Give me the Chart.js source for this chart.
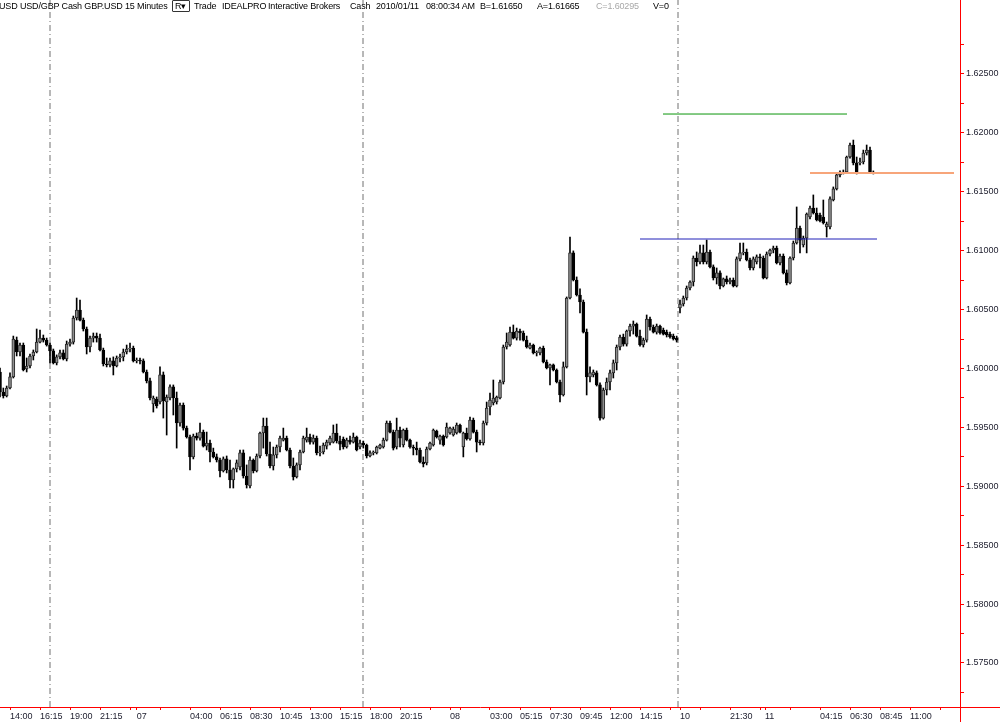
<!DOCTYPE html>
<html>
<head>
<meta charset="utf-8">
<script src="https://cdn.jsdelivr.net/npm/chart.js@4.4.1/dist/chart.umd.min.js"></script>
<style>
  html, body { margin: 0; padding: 0; background: #fff; }
  #wrap { position: relative; width: 1000px; height: 722px; overflow: hidden; }
  #chart { display: block; }
  #hdr { position: absolute; top: 1px; left: 0; width: 1000px; height: 12px;
         font: 9px 'Liberation Sans', Arial, sans-serif; letter-spacing: -0.15px; color: #000; white-space: nowrap; }
  #hdr span { position: absolute; top: 0; line-height: 11px; }
  #hdr .box { top: -1px; border: 1px solid #333; padding: 0 2px; line-height: 10px; border-radius: 1px; letter-spacing: 0; }
  #hdr .dim { color: #a8a8a8; }
</style>
</head>
<body>
<div id="wrap">
  <canvas id="chart" width="1000" height="722"></canvas>
  <div id="hdr">
    <span style="left:-1px">USD USD/GBP Cash GBP.USD</span>
    <span style="left:125px">15 Minutes</span>
    <span class="box" style="left:172px">R&#9662;</span>
    <span style="left:194px">Trade</span>
    <span style="left:222px">IDEALPRO</span>
    <span style="left:268px">Interactive Brokers</span>
    <span style="left:350px">Cash</span>
    <span style="left:376px">2010/01/11</span>
    <span style="left:426px">08:00:34 AM</span>
    <span style="left:480px">B=1.61650</span>
    <span style="left:537px">A=1.61665</span>
    <span class="dim" style="left:596px">C=1.60295</span>
    <span style="left:653px">V=0</span>
  </div>
</div>
<script>
// 15 minute bars, bar index 0 = 13:15 on the 6th
const open = [1.59970,1.59800,1.59766,1.59834,1.59928,1.60241,1.60140,1.60199,1.59996,1.60021,
 1.60106,1.60140,1.60224,1.60258,1.60241,1.60199,1.60149,1.60047,1.60098,1.60132,
 1.60081,1.60207,1.60224,1.60428,1.60496,1.60411,1.60335,1.60182,1.60258,1.60275,
 1.60258,1.60157,1.60038,1.60030,1.60064,1.60021,1.60089,1.60098,1.60140,1.60165,
 1.60173,1.60064,1.60072,1.60064,1.59970,1.59894,1.59698,1.59741,1.59715,1.59945,
 1.59715,1.59749,1.59843,1.59749,1.59537,1.59690,1.59494,1.59418,1.59249,1.59426,
 1.59409,1.59460,1.59341,1.59367,1.59291,1.59249,1.59223,1.59130,1.59232,1.59138,
 1.59053,1.59147,1.59164,1.59283,1.59087,1.59002,1.59223,1.59130,1.59257,1.59452,
 1.59511,1.59274,1.59172,1.59266,1.59333,1.59392,1.59409,1.59308,1.59172,1.59079,
 1.59181,1.59291,1.59392,1.59418,1.59375,1.59409,1.59283,1.59291,1.59341,1.59367,
 1.59375,1.59452,1.59384,1.59401,1.59333,1.59392,1.59375,1.59418,1.59333,1.59367,
 1.59350,1.59257,1.59283,1.59283,1.59324,1.59333,1.59392,1.59537,1.59460,1.59333,
 1.59477,1.59350,1.59477,1.59392,1.59333,1.59324,1.59308,1.59206,1.59198,1.59316,
 1.59350,1.59469,1.59392,1.59426,1.59418,1.59452,1.59435,1.59452,1.59520,1.59333,
 1.59452,1.59401,1.59562,1.59460,1.59375,1.59367,1.59537,1.59673,1.59707,1.59715,
 1.59749,1.59885,1.60182,1.60199,1.60309,1.60258,1.60318,1.60301,1.60241,1.60173,
 1.60199,1.60132,1.60132,1.60173,1.60055,1.60004,1.60030,1.59987,1.59885,1.59775,
 1.60013,1.60598,1.60981,1.60751,1.60624,1.60564,1.60309,1.59928,1.59945,1.59962,
 1.59860,1.59579,1.59817,1.59885,1.59962,1.60047,1.60182,1.60267,1.60207,1.60318,
 1.60360,1.60377,1.60275,1.60199,1.60241,1.60420,1.60352,1.60309,1.60360,1.60326,
 1.60309,1.60292,1.60275,1.60258,1.60513,1.60547,1.60598,1.60683,1.60734,1.60938,
 1.60904,1.60981,1.60904,1.60989,1.60862,1.60768,1.60811,1.60700,1.60760,1.60734,
 1.60751,1.60700,1.60930,1.60981,1.60989,1.60921,1.60853,1.60904,1.60947,1.60938,
 1.60768,1.60972,1.61006,1.61022,1.60896,1.60955,1.60811,1.60726,1.60938,1.61065,
 1.61192,1.61048,1.61107,1.61286,1.61362,1.61320,1.61303,1.61286,1.61201,1.61201,
 1.61430,1.61524,1.61643,1.61660,1.61668,1.61795,1.61897,1.61745,1.61745,1.61753,
 1.61829,1.61854,1.61668];

const high = [1.60004,1.59834,1.59851,1.59962,1.60275,1.60267,1.60216,1.60216,1.60089,1.60123,
 1.60157,1.60335,1.60326,1.60284,1.60258,1.60216,1.60165,1.60115,1.60157,1.60157,
 1.60233,1.60250,1.60445,1.60598,1.60581,1.60428,1.60352,1.60275,1.60301,1.60301,
 1.60292,1.60173,1.60089,1.60089,1.60098,1.60106,1.60123,1.60165,1.60199,1.60216,
 1.60190,1.60089,1.60089,1.60081,1.59987,1.59919,1.59766,1.59758,1.60013,1.59970,
 1.59775,1.59860,1.59860,1.59800,1.59707,1.59707,1.59511,1.59435,1.59443,1.59452,
 1.59537,1.59477,1.59460,1.59392,1.59324,1.59274,1.59240,1.59249,1.59257,1.59223,
 1.59155,1.59223,1.59308,1.59308,1.59181,1.59249,1.59232,1.59274,1.59460,1.59579,
 1.59579,1.59375,1.59333,1.59350,1.59426,1.59494,1.59426,1.59324,1.59240,1.59198,
 1.59308,1.59426,1.59494,1.59443,1.59435,1.59426,1.59341,1.59367,1.59392,1.59426,
 1.59520,1.59528,1.59426,1.59418,1.59409,1.59426,1.59452,1.59426,1.59392,1.59384,
 1.59358,1.59300,1.59300,1.59341,1.59358,1.59409,1.59554,1.59554,1.59477,1.59579,
 1.59503,1.59486,1.59494,1.59401,1.59350,1.59375,1.59324,1.59249,1.59333,1.59375,
 1.59486,1.59477,1.59435,1.59435,1.59537,1.59503,1.59503,1.59537,1.59528,1.59460,
 1.59494,1.59588,1.59579,1.59477,1.59392,1.59554,1.59715,1.59792,1.59902,1.59766,
 1.59902,1.60199,1.60301,1.60352,1.60369,1.60343,1.60335,1.60318,1.60275,1.60216,
 1.60207,1.60149,1.60182,1.60190,1.60072,1.60038,1.60038,1.59996,1.59902,1.60055,
 1.60607,1.61116,1.60998,1.60777,1.60675,1.60581,1.60335,1.60013,1.59987,1.59979,
 1.59877,1.59834,1.59919,1.59987,1.60072,1.60199,1.60284,1.60292,1.60326,1.60377,
 1.60403,1.60386,1.60326,1.60258,1.60454,1.60437,1.60369,1.60377,1.60369,1.60343,
 1.60326,1.60309,1.60292,1.60275,1.60581,1.60615,1.60700,1.60743,1.60955,1.60989,
 1.61048,1.61048,1.61090,1.61006,1.60879,1.60853,1.60828,1.60768,1.60785,1.60768,
 1.60768,1.60947,1.61065,1.61065,1.61014,1.60938,1.60947,1.60964,1.60972,1.60955,
 1.60989,1.61014,1.61039,1.61039,1.60972,1.60972,1.60836,1.60947,1.61082,1.61371,
 1.61209,1.61124,1.61320,1.61379,1.61473,1.61362,1.61320,1.61430,1.61243,1.61456,
 1.61541,1.61651,1.61677,1.61685,1.61803,1.61914,1.61939,1.61795,1.61786,1.61854,
 1.61897,1.61880,1.61677];

const low = [1.59758,1.59749,1.59758,1.59826,1.59919,1.60106,1.60106,1.59979,1.59970,1.60004,
 1.60072,1.60132,1.60216,1.60224,1.60190,1.60047,1.60038,1.60030,1.60081,1.60072,
 1.60064,1.60190,1.60207,1.60411,1.60403,1.60318,1.60123,1.60140,1.60224,1.60224,
 1.60149,1.60021,1.60013,1.60013,1.59945,1.60013,1.60055,1.60064,1.60123,1.60140,
 1.60055,1.60047,1.60038,1.59962,1.59877,1.59732,1.59630,1.59664,1.59698,1.59579,
 1.59435,1.59732,1.59605,1.59324,1.59511,1.59477,1.59409,1.59138,1.59232,1.59392,
 1.59392,1.59333,1.59308,1.59206,1.59240,1.59206,1.59079,1.59121,1.59113,1.58985,
 1.58985,1.59121,1.59138,1.59070,1.58985,1.58985,1.59113,1.59121,1.59240,1.59324,
 1.59257,1.59155,1.59138,1.59240,1.59291,1.59384,1.59300,1.59155,1.59053,1.59070,
 1.59138,1.59283,1.59375,1.59358,1.59358,1.59266,1.59257,1.59274,1.59316,1.59350,
 1.59367,1.59367,1.59308,1.59316,1.59324,1.59358,1.59367,1.59300,1.59316,1.59324,
 1.59240,1.59249,1.59266,1.59274,1.59316,1.59324,1.59384,1.59452,1.59308,1.59316,
 1.59333,1.59333,1.59384,1.59324,1.59266,1.59266,1.59198,1.59164,1.59181,1.59308,
 1.59341,1.59409,1.59358,1.59341,1.59409,1.59443,1.59426,1.59443,1.59452,1.59249,
 1.59392,1.59392,1.59452,1.59291,1.59350,1.59350,1.59520,1.59605,1.59690,1.59698,
 1.59741,1.59868,1.60165,1.60190,1.60250,1.60241,1.60241,1.60233,1.60173,1.60165,
 1.60123,1.60106,1.60115,1.60047,1.59996,1.59860,1.59979,1.59877,1.59715,1.59766,
 1.60004,1.60590,1.60743,1.60615,1.60471,1.60301,1.59775,1.59885,1.59928,1.59851,
 1.59562,1.59570,1.59775,1.59817,1.59919,1.59987,1.60157,1.60190,1.60190,1.60275,
 1.60292,1.60267,1.60190,1.60182,1.60224,1.60326,1.60301,1.60292,1.60292,1.60284,
 1.60267,1.60258,1.60241,1.60224,1.60471,1.60530,1.60581,1.60666,1.60700,1.60870,
 1.60887,1.60887,1.60887,1.60853,1.60751,1.60717,1.60675,1.60692,1.60717,1.60717,
 1.60692,1.60692,1.60913,1.60964,1.60913,1.60836,1.60836,1.60887,1.60853,1.60760,
 1.60760,1.60955,1.60981,1.60887,1.60879,1.60802,1.60709,1.60717,1.60921,1.61056,
 1.60981,1.61031,1.60981,1.61269,1.61311,1.61252,1.61243,1.61226,1.61116,1.61184,
 1.61422,1.61515,1.61626,1.61651,1.61660,1.61786,1.61728,1.61651,1.61728,1.61736,
 1.61812,1.61660,1.61651];

const close = [1.59800,1.59766,1.59834,1.59928,1.60250,1.60140,1.60199,1.59987,1.60021,1.60106,
 1.60140,1.60224,1.60258,1.60241,1.60199,1.60149,1.60047,1.60098,1.60132,1.60081,
 1.60207,1.60224,1.60428,1.60496,1.60411,1.60335,1.60182,1.60258,1.60275,1.60258,
 1.60157,1.60038,1.60030,1.60064,1.60021,1.60089,1.60098,1.60140,1.60165,1.60173,
 1.60064,1.60072,1.60064,1.59970,1.59894,1.59749,1.59749,1.59681,1.59945,1.59724,
 1.59758,1.59843,1.59749,1.59537,1.59690,1.59494,1.59418,1.59249,1.59426,1.59409,
 1.59460,1.59341,1.59367,1.59291,1.59249,1.59223,1.59130,1.59232,1.59138,1.59053,
 1.59147,1.59198,1.59283,1.59087,1.59011,1.59223,1.59130,1.59257,1.59452,1.59511,
 1.59274,1.59172,1.59266,1.59333,1.59409,1.59409,1.59308,1.59172,1.59079,1.59181,
 1.59291,1.59409,1.59418,1.59375,1.59409,1.59283,1.59291,1.59350,1.59375,1.59409,
 1.59452,1.59384,1.59358,1.59333,1.59392,1.59375,1.59418,1.59308,1.59367,1.59350,
 1.59257,1.59283,1.59291,1.59333,1.59350,1.59392,1.59537,1.59460,1.59324,1.59477,
 1.59409,1.59477,1.59392,1.59333,1.59324,1.59308,1.59206,1.59189,1.59316,1.59367,
 1.59477,1.59418,1.59426,1.59350,1.59503,1.59494,1.59486,1.59520,1.59460,1.59452,
 1.59401,1.59562,1.59460,1.59375,1.59367,1.59537,1.59664,1.59732,1.59749,1.59758,
 1.59885,1.60182,1.60224,1.60309,1.60258,1.60318,1.60301,1.60241,1.60182,1.60199,
 1.60132,1.60140,1.60173,1.60055,1.60004,1.60030,1.59987,1.59885,1.59775,1.60013,
 1.60598,1.60981,1.60751,1.60624,1.60564,1.60309,1.59928,1.59962,1.59970,1.59860,
 1.59579,1.59817,1.59885,1.59962,1.60047,1.60182,1.60267,1.60207,1.60318,1.60360,
 1.60377,1.60275,1.60199,1.60241,1.60420,1.60352,1.60309,1.60360,1.60301,1.60292,
 1.60284,1.60267,1.60250,1.60241,1.60547,1.60598,1.60683,1.60734,1.60938,1.60904,
 1.60981,1.60904,1.60989,1.60862,1.60768,1.60811,1.60700,1.60760,1.60734,1.60751,
 1.60700,1.60930,1.60981,1.60989,1.60921,1.60853,1.60930,1.60947,1.60938,1.60768,
 1.60972,1.61006,1.61022,1.60896,1.60955,1.60811,1.60726,1.60938,1.61065,1.61192,
 1.61090,1.61107,1.61311,1.61362,1.61320,1.61260,1.61252,1.61235,1.61226,1.61439,
 1.61524,1.61643,1.61668,1.61668,1.61795,1.61897,1.61745,1.61668,1.61753,1.61829,
 1.61854,1.61668,1.61660];

// time axis: bar index of each tick and its label ('' = tick mark only)
const xTickPos  = [3, 12, 21, 30, 39, 41, 48, 57, 66, 75, 84, 93, 102, 111, 120, 129, 135, 138,
  147, 156, 165, 174, 183, 192, 201, 204, 210, 219, 228, 229.5, 237, 246, 255, 264, 273, 282];
const xTickText = ['14:00', '16:15', '19:00', '21:15', '', '07', '', '04:00', '06:15', '08:30', '10:45', '13:00', '15:15', '18:00', '20:15', '', '08', '',
  '03:00', '05:15', '07:30', '09:45', '12:00', '14:15', '', '10', '', '21:30', '', '11', '', '04:15', '06:30', '08:45', '11:00', ''];
const yTopTick = 1.6275;

// session breaks (bar index) and price levels
const sessionBreaks = [15, 108.9, 203.4];
const levelPrices = [1.62160, 1.61099, 1.61659];
const levelFrom   = [198.9, 192, 243];
const levelTo     = [254.1, 263.1, 286.2];
const levelColors = ['#0b960b', '#2020b8', '#f7a57a'];
const levelWidths = [1, 1, 2];

const yMin = 1.57126, yMax = 1.63128;
const font = { family: "'Liberation Sans', Arial, sans-serif", size: 9 };

const upFill = '#8e8e8e', upLine = '#262626', downFill = '#000000';
const isUp = i => close[i] >= open[i];

const datasets = [];
levelPrices.forEach((p, k) => {
  datasets.push({
    type: 'line', order: 0,
    data: [{ x: levelFrom[k], y: p }, { x: levelTo[k], y: p }],
    borderColor: levelColors[k], borderWidth: levelWidths[k], pointRadius: 0
  });
});
sessionBreaks.forEach(b => {
  datasets.push({
    type: 'line', order: 3,
    data: [{ x: b, y: yMin }, { x: b, y: yMax }],
    borderColor: '#707070', borderWidth: 1, borderDash: [6, 3, 1, 3], pointRadius: 0
  });
});
datasets.push({
  type: 'bar', order: 1, grouped: false, barThickness: 3,
  data: open.map((o, i) => ({ x: i, y: [o, close[i]] })),
  backgroundColor: c => isUp(c.dataIndex) ? upFill : downFill,
  borderColor: c => isUp(c.dataIndex) ? upLine : downFill,
  borderWidth: 1, borderSkipped: false
});
datasets.push({
  type: 'bar', order: 2, grouped: false, barThickness: 1,
  data: low.map((l, i) => ({ x: i, y: [l, high[i]] })),
  backgroundColor: '#000'
});

// red axis lines run on past the plot corner
const axisEdges = {
  id: 'axisEdges',
  afterDraw(chart) {
    const { ctx, chartArea: a } = chart;
    ctx.save();
    ctx.strokeStyle = '#ff0000';
    ctx.lineWidth = 1;
    ctx.beginPath();
    ctx.moveTo(a.right + 0.5, a.bottom);
    ctx.lineTo(a.right + 0.5, chart.height);
    ctx.moveTo(a.right, a.bottom + 0.5);
    ctx.lineTo(chart.width, a.bottom + 0.5);
    ctx.stroke();
    ctx.restore();
  }
};

new Chart(document.getElementById('chart'), {
  type: 'bar',
  data: { datasets: datasets },
  options: {
    responsive: false,
    animation: false,
    layout: { padding: 0 },
    plugins: { legend: { display: false }, tooltip: { enabled: false } },
    scales: {
      x: {
        type: 'linear', min: 0, max: 288, offset: false,
        afterBuildTicks: s => { s.ticks = xTickPos.map(v => ({ value: v })); },
        afterFit: s => { s.height = 15; s.paddingLeft = 0; s.paddingRight = 0; },
        ticks: {
          autoSkip: false, maxRotation: 0, minRotation: 0, align: 'start', padding: 1,
          font: font, color: '#1c1c2c',
          callback: (v, i) => xTickText[i]
        },
        grid: { offset: false, drawOnChartArea: false, drawTicks: true, tickLength: 3, color: '#ff0000' },
        border: { color: '#ff0000' }
      },
      y: {
        type: 'linear', position: 'right', min: yMin, max: yMax,
        afterBuildTicks: s => { s.ticks = s.ticks.filter(t => t.value <= yTopTick + 1e-9); },
        afterFit: s => { s.width = 40; s.paddingTop = 0; s.paddingBottom = 0; },
        ticks: {
          stepSize: 0.0025, includeBounds: false, padding: 2,
          font: font, color: '#1c1c2c',
          callback: v => (Math.abs(v * 200 - Math.round(v * 200)) < 1e-6 ? v.toFixed(5) : '')
        },
        grid: { drawOnChartArea: false, tickLength: 4, color: '#ff0000' },
        border: { color: '#ff0000' }
      }
    }
  },
  plugins: [axisEdges]
});
</script>
</body>
</html>
